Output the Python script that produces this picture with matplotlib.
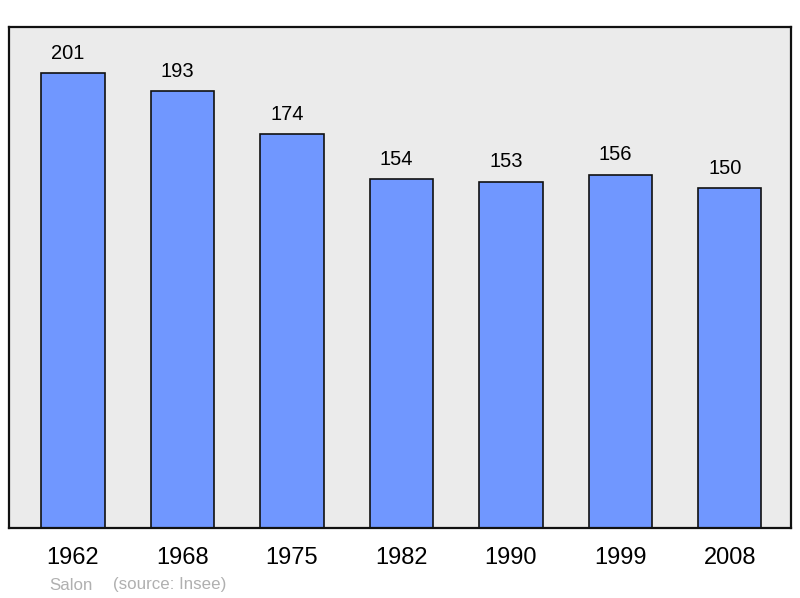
import matplotlib.pyplot as plt

plt.rcParams["font.family"] = ["Liberation Sans", "DejaVu Sans"]

years = ["1962", "1968", "1975", "1982", "1990", "1999", "2008"]
population = [201, 193, 174, 154, 153, 156, 150]

fig = plt.figure(figsize=(8, 5.98), dpi=100)
ax = fig.add_axes([9 / 800, 70 / 598, 782 / 800, 501 / 598])
ax.set_facecolor("#ebebeb")

x = list(range(len(years)))
bars = ax.bar(x, population, width=0.58, color="#7097ff", edgecolor="#111111",
              linewidth=1.2, zorder=2)

# value labels sit a little left of the bar centre in the original
for xi, v in zip(x, population):
    ax.annotate(str(v), (xi, v), xytext=(-3.5, 7.5), textcoords="offset points",
                ha="center", va="bottom", fontsize=14.5)

ax.set_xlim(-0.585, 6.56)
ax.set_ylim(0, 221.3)
ax.set_yticks([])
ax.set_xticks(x)
ax.set_xticklabels(years, fontsize=17)
ax.tick_params(axis="x", length=0, pad=14)

for s in ax.spines.values():
    s.set_linewidth(1.6)
    s.set_color("#111111")

fig.text(49 / 800, 1 - 585 / 598, "Salon", color="#b0b0b0", fontsize=12.2,
         va="center", ha="left")
fig.text(113 / 800, 1 - 585 / 598, "(source: Insee)", color="#b0b0b0",
         fontsize=12.2, va="center", ha="left")

fig.savefig("out.png", dpi=100)
